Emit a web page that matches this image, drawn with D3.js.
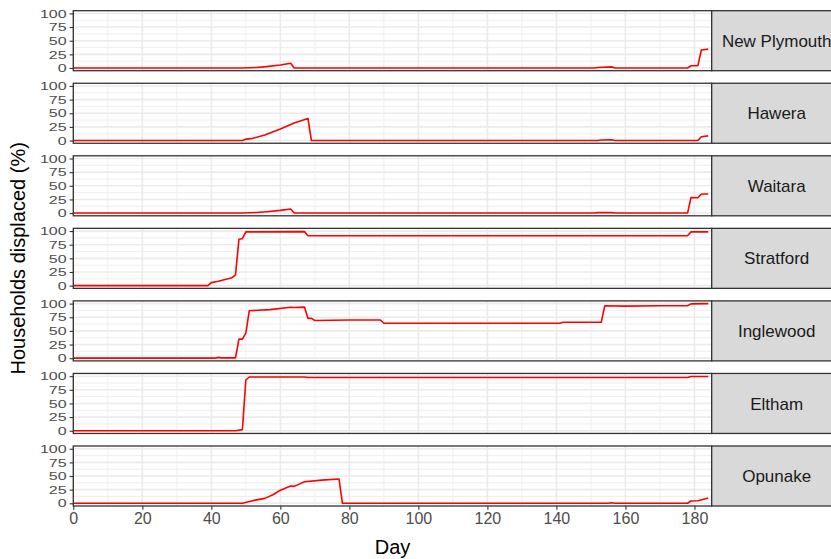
<!DOCTYPE html>
<html>
<head>
    <meta charset="utf-8">
    <title>Households displaced by town</title>
    <script src="https://d3js.org/d3.v7.min.js"></script>
    <style>
        body { margin: 0; background: #fff; }
        text { font-family: "Liberation Sans", Arial, sans-serif; }
    </style>
</head>
<body>
    <div id="chart"></div>
    <script>

        // [day, % households displaced] for each town
        var towns = ["New Plymouth", "Hawera", "Waitara", "Stratford", "Inglewood", "Eltham", "Opunake"];

        var newPlymouth = [[0,0],[49,0],[53,1],[56,2.5],[60,5.5],[63,8.6],[64,0],[151,0],[152,1],[156,2],[157,0],
            [178,0],[179,4],[181,4.3],[182,33],[184,34.5]];
        var hawera = [[0,0],[49,0],[50,2.5],[52,4],[55.5,10],[60,21],[64,32],[68,40.5],[69,0],[152,0],[153,1],[156,1.5],
            [157,0],[181,0],[182,7],[184,8.5]];
        var waitara = [[0,0],[49,0],[53,1],[56,2.5],[60,5],[63,7.5],[64,0],[151,0],[152,0.8],[156,0.8],[157,0],
            [178,0],[179,28.5],[181,28],[182,35],[184,35]];
        var stratford = [[0,0],[39,0],[40,5.5],[42,8],[46,14.5],[47,19.5],[48,85],[49,86],[50,98.5],[67,99],
            [68,91.5],[178,91.5],[179,98.5],[184,98.5]];
        var inglewood = [[0,0],[41,0],[42,1.5],[43,0.5],[47,0.5],[48,35],[49,35],[50,46],[51,87],[57,89],
            [63,93.5],[64,93],[67,93.5],[68,73],[69,73],[70,69],[80,70],[89,70],[90,64],[141,64],[142,65.8],
            [153,65.8],[154,96],[160,95.5],[170,96],[178,96],[179,99.5],[184,100]];
        var eltham = [[0,0],[47,0],[49,2],[50,93],[51,98.5],[67,98.5],[68,97.5],[178,97.5],[179,99.5],[184,99.5]];
        var opunake = [[0,0],[49,0],[52,4.8],[55.5,9],[58,16],[60,24],[63,31.5],[64,31],[67,39.5],[72,42.5],
            [77,44.5],[78,0],[155,0],[156,1],[157,0],[178,0],[179,4.2],[181,4.5],[184,9.5]];

        var series = [newPlymouth, hawera, waitara, stratford, inglewood, eltham, opunake];

        var xTicks = [0, 20, 40, 60, 80, 100, 120, 140, 160, 180];
        var xMinor = [10, 30, 50, 70, 90, 110, 130, 150, 170];
        var yTicks = [0, 25, 50, 75, 100];
        var yMinor = [12.5, 37.5, 62.5, 87.5];

        var W = 831, H = 559;
        var left = 73.3, right = 711.7;
        var top0 = 10.7, panelH = 60, step = 72.55;
        var stripW = 130;

        var svg = d3.select("#chart")
            .append("svg")
            .attr("width", W)
            .attr("height", H);

        var x = d3.scaleLinear().domain([0, 185]).range([left, right]);

        var line = d3.line();

        towns.forEach(function(town, i) {
            var top = top0 + i * step;
            var y = d3.scaleLinear().domain([-5, 105]).range([top + panelH, top]);
            var g = svg.append("g");

            g.append("rect")
                .attr("x", left).attr("y", top)
                .attr("width", right - left).attr("height", panelH)
                .attr("fill", "#fff");

            // grid
            g.selectAll(".vmin").data(xMinor).enter().append("line")
                .attr("x1", function(d) { return x(d); }).attr("x2", function(d) { return x(d); })
                .attr("y1", top).attr("y2", top + panelH)
                .attr("stroke", "#ebebeb").attr("stroke-width", 0.8);
            g.selectAll(".hmin").data(yMinor).enter().append("line")
                .attr("x1", left).attr("x2", right)
                .attr("y1", function(d) { return y(d); }).attr("y2", function(d) { return y(d); })
                .attr("stroke", "#ebebeb").attr("stroke-width", 0.8);
            g.selectAll(".vmaj").data(xTicks).enter().append("line")
                .attr("x1", function(d) { return x(d); }).attr("x2", function(d) { return x(d); })
                .attr("y1", top).attr("y2", top + panelH)
                .attr("stroke", "#ebebeb").attr("stroke-width", 1.6);
            g.selectAll(".hmaj").data(yTicks).enter().append("line")
                .attr("x1", left).attr("x2", right)
                .attr("y1", function(d) { return y(d); }).attr("y2", function(d) { return y(d); })
                .attr("stroke", "#ebebeb").attr("stroke-width", 1.6);

            line.x(function(d) { return x(d[0]); }).y(function(d) { return y(d[1]); });
            g.append("path")
                .datum(series[i])
                .attr("d", line)
                .attr("fill", "none")
                .attr("stroke", "#ff0000")
                .attr("stroke-width", 1.6)
                .attr("stroke-linejoin", "round");

            g.append("rect")
                .attr("x", left).attr("y", top)
                .attr("width", right - left).attr("height", panelH)
                .attr("fill", "none").attr("stroke", "#333").attr("stroke-width", 1.3);

            // y axis (labels look vertically squeezed in the original)
            var ya = g.append("g")
                .attr("transform", "translate(" + left + ",0)")
                .call(d3.axisLeft(y).tickValues(yTicks).tickSize(3.7).tickPadding(3));
            ya.select(".domain").remove();
            ya.selectAll("line").attr("stroke", "#333").attr("stroke-width", 1.1);
            ya.selectAll("text").attr("fill", "#4d4d4d").style("font-size", "16px")
                .style("font-family", "'Liberation Sans', Arial, sans-serif")
                .attr("transform", "scale(1,0.72)");

            // strip
            g.append("rect")
                .attr("x", right).attr("y", top)
                .attr("width", stripW).attr("height", panelH)
                .attr("fill", "#d9d9d9").attr("stroke", "#333").attr("stroke-width", 1.3);
            g.append("text")
                .attr("x", right + stripW / 2)
                .attr("y", top + panelH / 2)
                .attr("dy", "0.36em")
                .attr("text-anchor", "middle")
                .attr("fill", "#1a1a1a")
                .style("font-size", "17px")
                .text(town);
        });

        var bottom = top0 + (towns.length - 1) * step + panelH;
        var xa = svg.append("g")
            .attr("transform", "translate(0," + bottom + ")")
            .call(d3.axisBottom(x).tickValues(xTicks).tickSize(3.7).tickPadding(3));
        xa.select(".domain").remove();
        xa.selectAll("line").attr("stroke", "#333").attr("stroke-width", 1.1);
        xa.selectAll("text").attr("fill", "#4d4d4d").style("font-size", "16px")
            .style("font-family", "'Liberation Sans', Arial, sans-serif");

        svg.append("text")
            .attr("x", (left + right) / 2)
            .attr("y", 554)
            .attr("text-anchor", "middle")
            .style("font-size", "20px")
            .text("Day");

        svg.append("text")
            .attr("transform", "translate(25," + (top0 + bottom) / 2 + ") rotate(-90)")
            .attr("text-anchor", "middle")
            .style("font-size", "20px")
            .text("Households displaced (%)");

    </script>
</body>
</html>
